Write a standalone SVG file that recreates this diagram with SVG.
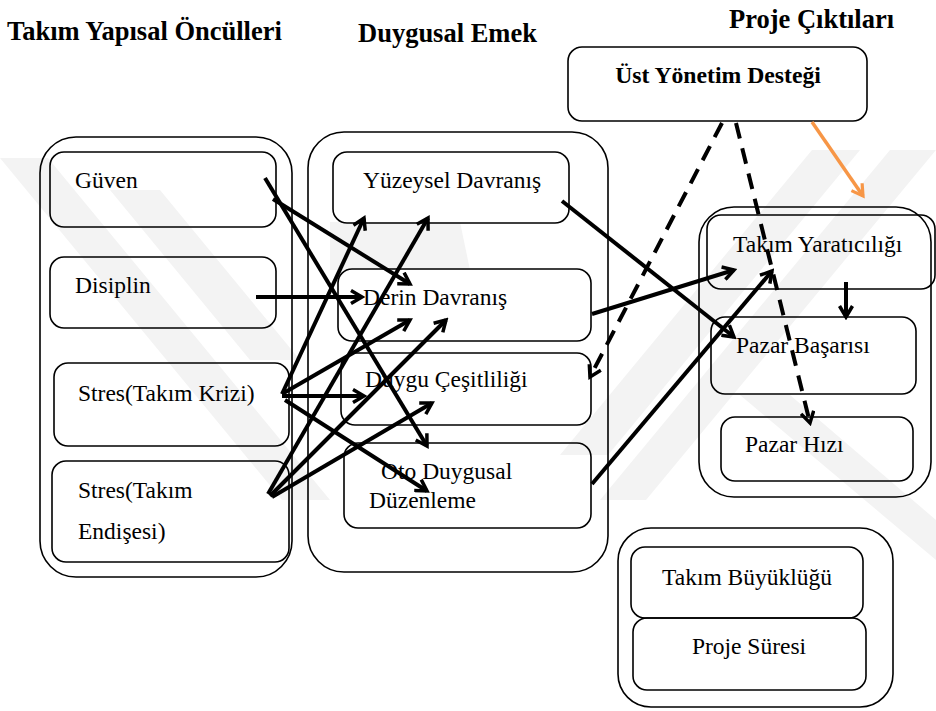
<svg xmlns="http://www.w3.org/2000/svg" width="936" height="711" viewBox="0 0 936 711">
  <defs>
    <style>
      .box { fill: none; stroke: #000; stroke-width: 1.6; }
      .link { fill: none; stroke: #000; stroke-width: 4; stroke-linecap: butt; }
      .dash { fill: none; stroke: #000; stroke-width: 4; stroke-dasharray: 16 10; }
      .orange { fill: none; stroke: #f79646; stroke-width: 3.5; }
      .mark { fill: #f3f3f3; stroke: none; }
      text { font-family: "Liberation Serif", "Times New Roman", Tinos, "Nimbus Roman", "Noto Serif", "DejaVu Serif", FreeSerif, Times, serif; }
    </style>
    <marker id="arrow" viewBox="0 0 16 16" refX="13" refY="8" markerWidth="16" markerHeight="16" markerUnits="userSpaceOnUse" orient="auto">
      <path d="M2,1.5 L13,8 L2,14.5" fill="none" stroke="#000" stroke-width="3.5"/>
    </marker>
    <marker id="arrow-orange" viewBox="0 0 16 16" refX="13" refY="8" markerWidth="16" markerHeight="16" markerUnits="userSpaceOnUse" orient="auto">
      <path d="M2,1.5 L13,8 L2,14.5" fill="none" stroke="#f79646" stroke-width="3.2"/>
    </marker>
  </defs>

  <rect width="936" height="711" fill="#fff"/>

  <!-- faint background emblem -->
  <g id="background-emblem">
    <polygon class="mark" points="0,158 48,158 330,500 282,500"/>
    <polygon class="mark" points="110,190 160,190 300,360 250,360"/>
    <polygon class="mark" points="936,150 890,150 600,500 646,500"/>
    <polygon class="mark" points="860,150 812,150 560,455 608,455"/>
    <polygon class="mark" points="330,222 460,222 470,270 330,270"/>
    <polygon class="mark" points="740,395 790,395 936,520 936,560"/>
  </g>

  <!-- column headings -->
  <g id="headings" font-size="26.5" font-weight="bold" fill="#000">
    <text x="7" y="40">Takım Yapısal Öncülleri</text>
    <text x="358" y="42">Duygusal Emek</text>
    <text x="729" y="28">Proje Çıktıları</text>
  </g>

  <!-- containers -->
  <g id="group-antecedents">
    <rect class="box" x="40" y="137" width="252" height="440" rx="36"/>
  </g>
  <g id="group-emotional-labor">
    <rect class="box" x="308" y="132" width="300" height="440" rx="36"/>
  </g>
  <g id="group-outcomes">
    <rect class="box" x="699" y="207" width="232" height="290" rx="35"/>
  </g>
  <g id="group-controls">
    <rect class="box" x="618" y="528" width="275" height="179" rx="33"/>
  </g>

  <g id="nodes" font-size="23.5" fill="#000">
    <!-- antecedent nodes -->
    <g id="node-guven">
      <rect class="box" x="50" y="152" width="226" height="75" rx="14"/>
      <text x="75" y="188">Güven</text>
    </g>
    <g id="node-disiplin">
      <rect class="box" x="50" y="257" width="226" height="71" rx="14"/>
      <text x="75" y="293">Disiplin</text>
    </g>
    <g id="node-stres-kriz">
      <rect class="box" x="54" y="363" width="235" height="83" rx="14"/>
      <text x="78" y="401">Stres(Takım Krizi)</text>
    </g>
    <g id="node-stres-endise">
      <rect class="box" x="52" y="461" width="237" height="101" rx="14"/>
      <text x="78" y="498">Stres(Takım</text>
      <text x="78" y="539">Endişesi)</text>
    </g>

    <!-- emotional labor nodes -->
    <g id="node-yuzeysel">
      <rect class="box" x="333" y="152" width="236" height="71" rx="14"/>
      <text x="363" y="188">Yüzeysel Davranış</text>
    </g>
    <g id="node-derin">
      <rect class="box" x="338" y="269" width="253" height="72" rx="14"/>
      <text x="363" y="305">Derin Davranış</text>
    </g>
    <g id="node-duygu">
      <rect class="box" x="341" y="353" width="250" height="72" rx="14"/>
      <text x="365" y="387">Duygu Çeşitliliği</text>
    </g>
    <g id="node-oto">
      <rect class="box" x="344" y="443" width="247" height="85" rx="14"/>
      <text x="381" y="479">Oto Duygusal</text>
      <text x="369" y="508">Düzenleme</text>
    </g>

    <!-- top management support -->
    <g id="node-ust-yonetim">
      <rect class="box" x="568" y="47" width="299" height="74" rx="14"/>
      <text x="718" y="83" text-anchor="middle" font-weight="bold" font-size="23.7">Üst Yönetim Desteği</text>
    </g>

    <!-- outcome nodes -->
    <g id="node-yaraticilik">
      <rect class="box" x="707" y="215" width="228" height="74" rx="14"/>
      <text x="733" y="252">Takım Yaratıcılığı</text>
    </g>
    <g id="node-pazar-basari">
      <rect class="box" x="711" y="317" width="205" height="77" rx="14"/>
      <text x="736" y="353">Pazar Başarısı</text>
    </g>
    <g id="node-pazar-hiz">
      <rect class="box" x="721" y="417" width="192" height="64" rx="14"/>
      <text x="745" y="452">Pazar Hızı</text>
    </g>

    <!-- control nodes -->
    <g id="node-takim-buyuklugu">
      <rect class="box" x="631" y="547" width="232" height="71" rx="14"/>
      <text x="747" y="585" text-anchor="middle">Takım Büyüklüğü</text>
    </g>
    <g id="node-proje-suresi">
      <rect class="box" x="633" y="618" width="233" height="72" rx="14"/>
      <text x="749" y="654" text-anchor="middle">Proje Süresi</text>
    </g>
  </g>

  <!-- connectors -->
  <g id="connectors">
    <line class="link" x1="265" y1="178" x2="427" y2="446" marker-end="url(#arrow)"/>
    <line class="link" x1="273" y1="199" x2="410" y2="284" marker-end="url(#arrow)"/>
    <line class="link" x1="256" y1="297" x2="362" y2="297" marker-end="url(#arrow)"/>
    <line class="link" x1="282" y1="394" x2="364" y2="218" marker-end="url(#arrow)"/>
    <line class="link" x1="282" y1="394" x2="410" y2="320" marker-end="url(#arrow)"/>
    <line class="link" x1="282" y1="396" x2="364" y2="396" marker-end="url(#arrow)"/>
    <line class="link" x1="285" y1="400" x2="427" y2="491" marker-end="url(#arrow)"/>
    <line class="link" x1="268" y1="494" x2="428" y2="218" marker-end="url(#arrow)"/>
    <line class="link" x1="270" y1="496" x2="446" y2="320" marker-end="url(#arrow)"/>
    <line class="link" x1="272" y1="497" x2="432" y2="403" marker-end="url(#arrow)"/>
    <line class="link" x1="562" y1="201" x2="734" y2="337" marker-end="url(#arrow)"/>
    <line class="link" x1="592" y1="314" x2="734" y2="270" marker-end="url(#arrow)"/>
    <line class="link" x1="592" y1="484" x2="772" y2="271" marker-end="url(#arrow)"/>
    <line class="link" x1="846" y1="282" x2="846" y2="317" marker-end="url(#arrow)"/>
    <line class="dash" x1="722" y1="123" x2="590" y2="377" marker-end="url(#arrow)"/>
    <line class="dash" x1="736" y1="123" x2="810" y2="423" marker-end="url(#arrow)"/>
    <line class="orange" x1="812" y1="122" x2="863" y2="196" marker-end="url(#arrow-orange)"/>
  </g>
</svg>
